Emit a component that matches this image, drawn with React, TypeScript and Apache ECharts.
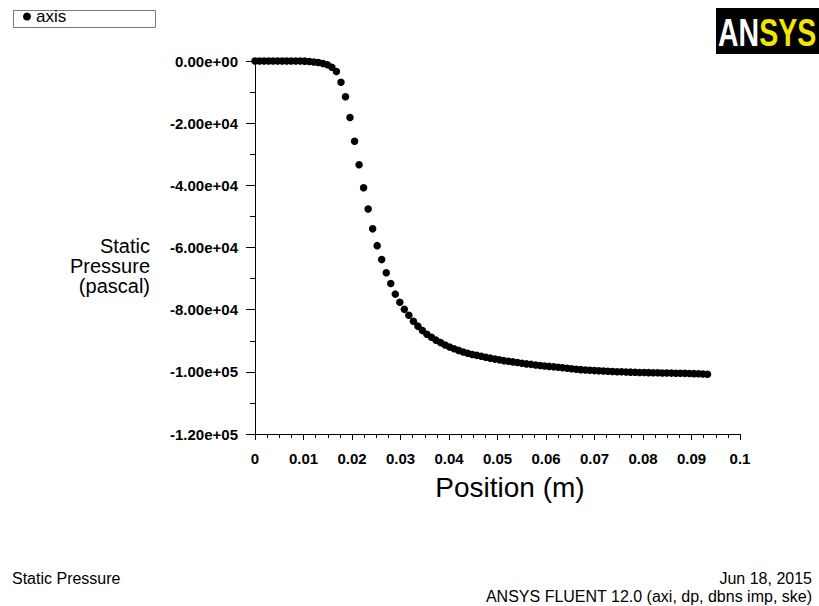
import React, { useEffect, useRef } from "react";
import * as echarts from "echarts";

const seriesName = "axis";
const xAxisTitle = "Position (m)";
const yAxisTitleLines = ["Static", "Pressure", "(pascal)"];
const footerLeft = "Static Pressure";
const footerDate = "Jun 18, 2015";
const footerVersion = "ANSYS FLUENT 12.0 (axi, dp, dbns imp, ske)";

const positions = [
  0, 0.00093, 0.00187, 0.0028, 0.00373, 0.00467, 0.0056, 0.00653, 0.00746, 0.0084,
  0.00933, 0.01026, 0.0112, 0.01213, 0.01306, 0.014, 0.01493, 0.01586, 0.01679, 0.01773,
  0.01866, 0.01959, 0.02053, 0.02146, 0.02239, 0.02333, 0.02426, 0.02519, 0.02612, 0.02706,
  0.02799, 0.02892, 0.02986, 0.03079, 0.03172, 0.03266, 0.03359, 0.03452, 0.03545, 0.03639,
  0.03732, 0.03825, 0.03919, 0.04012, 0.04105, 0.04199, 0.04292, 0.04385, 0.04478, 0.04572,
  0.04665, 0.04758, 0.04852, 0.04945, 0.05038, 0.05132, 0.05225, 0.05318, 0.05411, 0.05505,
  0.05598, 0.05691, 0.05785, 0.05878, 0.05971, 0.06065, 0.06158, 0.06251, 0.06344, 0.06438,
  0.06531, 0.06624, 0.06718, 0.06811, 0.06904, 0.06998, 0.07091, 0.07184, 0.07277, 0.07371,
  0.07464, 0.07557, 0.07651, 0.07744, 0.07837, 0.07931, 0.08024, 0.08117, 0.0821, 0.08304,
  0.08397, 0.0849, 0.08584, 0.08677, 0.0877, 0.08864, 0.08957, 0.0905, 0.09143, 0.09237,
  0.0933,
];

const pressures = [
  0, 0, 0, 0, 0, 0, 0, 0, 0, 0,
  0, -50, -150, -300, -500, -800, -1200, -2000, -3400, -6850,
  -11500, -18200, -25800, -33400, -40800, -47600, -54000, -59400, -63900, -68100,
  -71600, -75000, -77600, -79900, -81800, -83700, -85300, -86700, -87900, -88900,
  -89800, -90600, -91350, -92000, -92600, -93100, -93600, -94000, -94400, -94700,
  -95000, -95300, -95600, -95900, -96150, -96400, -96600, -96800, -97000, -97250,
  -97450, -97600, -97800, -97950, -98100, -98250, -98400, -98550, -98700, -98850,
  -99000, -99150, -99300, -99400, -99500, -99600, -99680, -99750, -99820, -99880,
  -99950, -100000, -100050, -100100, -100150, -100200, -100230, -100260, -100290, -100320,
  -100350, -100380, -100410, -100440, -100460, -100490, -100530, -100580, -100640, -100710,
  -100800,
];

const FONT = "'Liberation Sans', Arial, Helvetica, sans-serif";

function formatExp(v: number): string {
  if (v === 0) return "0.00e+00";
  const s = v.toExponential(2);
  const [mant, exp] = s.split("e");
  const sign = exp[0];
  const digits = exp.slice(1).padStart(2, "0");
  return `${mant}e${sign}${digits}`;
}

function formatPos(v: number): string {
  return String(parseFloat(v.toFixed(3)));
}

export default function App() {
  const ref = useRef<HTMLDivElement>(null);

  useEffect(() => {
    if (!ref.current) return;
    const chart = echarts.init(ref.current, undefined, { renderer: "svg" });
    const data = positions.map((x, i) => [x, pressures[i]]);

    const yTitle = yAxisTitleLines.map((line, i) => ({
      type: "text",
      right: 669,
      top: 236 + i * 20,
      style: { text: line, fill: "#000", font: `20px ${FONT}`, textAlign: "right" },
    }));

    chart.setOption({
      animation: false,
      backgroundColor: "#ffffff",
      textStyle: { fontFamily: FONT, color: "#000" },
      grid: { left: 255, top: 61, right: 79, bottom: 172, containLabel: false },
      legend: {
        data: [seriesName],
        left: 23,
        top: 8,
        padding: 0,
        icon: "circle",
        itemWidth: 8,
        itemHeight: 8,
        itemGap: 5,
        textStyle: { fontSize: 17, color: "#000", fontFamily: FONT, lineHeight: 17 },
      },
      xAxis: {
        type: "value",
        min: 0,
        max: 0.1,
        interval: 0.01,
        name: xAxisTitle,
        nameLocation: "middle",
        nameGap: 39,
        nameTextStyle: { fontSize: 28, color: "#000", fontFamily: FONT, padding: [0, 0, 0, 25] },
        axisLine: { show: true, onZero: false, lineStyle: { color: "#000", width: 1 } },
        axisTick: { show: true, inside: false, length: 6, lineStyle: { color: "#000" } },
        minorTick: { show: true, splitNumber: 4, length: 4, lineStyle: { color: "#000" } },
        splitLine: { show: false },
        axisLabel: {
          margin: 17,
          fontSize: 15,
          fontWeight: "bold",
          color: "#000",
          fontFamily: FONT,
          formatter: (v: number) => formatPos(v),
        },
      },
      yAxis: {
        type: "value",
        min: -120000,
        max: 0,
        interval: 20000,
        axisLine: { show: true, onZero: false, lineStyle: { color: "#000", width: 1 } },
        axisTick: { show: true, inside: false, length: 9, lineStyle: { color: "#000" } },
        minorTick: { show: true, splitNumber: 2, length: 5, lineStyle: { color: "#000" } },
        splitLine: { show: false },
        axisLabel: {
          margin: 17,
          fontSize: 15,
          fontWeight: "bold",
          color: "#000",
          fontFamily: FONT,
          formatter: (v: number) => formatExp(v),
        },
      },
      series: [
        {
          name: seriesName,
          type: "scatter",
          data,
          symbol: "circle",
          symbolSize: 7.5,
          itemStyle: { color: "#000", opacity: 1 },
        },
      ],
      graphic: [
        {
          type: "rect",
          left: 11,
          top: 8,
          shape: { width: 142, height: 17 },
          style: { fill: "none", stroke: "#7a7a7a", lineWidth: 1 },
          z: -1,
        },
        ...yTitle,
        {
          type: "group",
          left: 716,
          top: 8,
          children: [
            {
              type: "rect",
              shape: { x: 0, y: 0, width: 103, height: 46 },
              style: { fill: "#000" },
            },
            {
              type: "group",
              x: 2,
              y: 25,
              scaleX: 0.75,
              children: [
                {
                  type: "text",
                  x: 0,
                  y: 0,
                  style: {
                    text: "AN",
                    fill: "#ffffff",
                    font: `bold 38px ${FONT}`,
                    textVerticalAlign: "middle",
                  },
                },
                {
                  type: "text",
                  x: 55,
                  y: 0,
                  style: {
                    text: "SYS",
                    fill: "#f2e600",
                    font: `bold 38px ${FONT}`,
                    textVerticalAlign: "middle",
                  },
                },
              ],
            },
          ],
        },
        {
          type: "text",
          left: 12,
          top: 570,
          style: { text: footerLeft, fill: "#000", font: `16px ${FONT}` },
        },
        {
          type: "text",
          right: 7,
          top: 570,
          style: { text: footerDate, fill: "#000", font: `16px ${FONT}`, textAlign: "right" },
        },
        {
          type: "text",
          right: 7,
          top: 588,
          style: { text: footerVersion, fill: "#000", font: `16px ${FONT}`, textAlign: "right" },
        },
      ],
    });

    return () => chart.dispose();
  }, []);

  return (
    <div
      ref={ref}
      style={{ position: "fixed", left: 0, top: 0, width: 819, height: 606, background: "#fff" }}
    />
  );
}
